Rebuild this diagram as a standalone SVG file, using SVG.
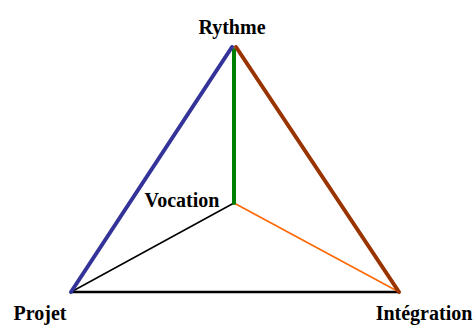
<svg xmlns="http://www.w3.org/2000/svg" width="476" height="325" viewBox="0 0 476 325">
<style>
text{font-family:"Liberation Serif","Times New Roman",serif;font-weight:bold;font-size:20px;fill:#000}
</style>
<rect width="476" height="325" fill="#fff"/>
<g id="connectors" fill="none" stroke-linecap="round">
<line x1="71" y1="292" x2="399" y2="292" stroke="#000" stroke-width="2.5"/>
<line x1="71" y1="292" x2="234" y2="203" stroke="#000" stroke-width="1.5"/>
<line x1="234" y1="203" x2="399" y2="292" stroke="#ff6600" stroke-width="1.5"/>
<line x1="234" y1="50" x2="234" y2="203" stroke="#008000" stroke-width="4"/>
<line x1="71" y1="292" x2="232" y2="47" stroke="#333399" stroke-width="4"/>
<line x1="236" y1="47" x2="399" y2="292" stroke="#993300" stroke-width="4"/>
</g>
<g id="rythme"><text x="232" y="34" text-anchor="middle">Rythme</text></g>
<g id="vocation"><text x="182" y="207" text-anchor="middle">Vocation</text></g>
<g id="projet"><text x="40" y="320" text-anchor="middle">Projet</text></g>
<g id="integration"><text x="424" y="320" text-anchor="middle">Intégration</text></g>
</svg>
